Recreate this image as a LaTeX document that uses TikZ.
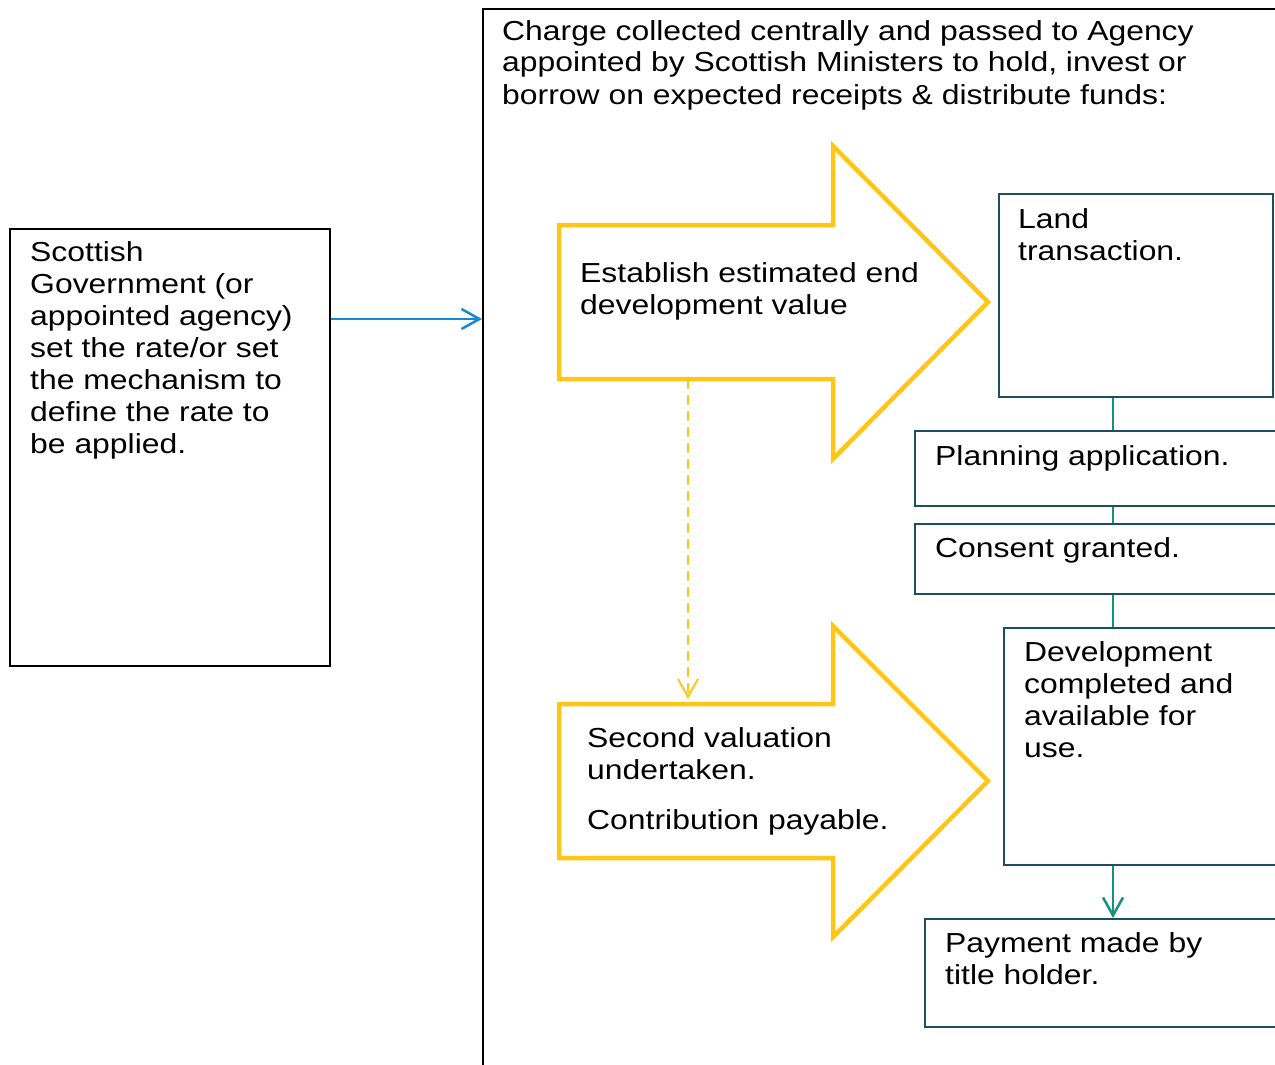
\documentclass[tikz,border=0pt]{standalone}
\usepackage{fontspec}
\setmainfont{Liberation Sans}[FakeStretch=1.16]
\usetikzlibrary{arrows.meta}
\definecolor{boxline}{HTML}{1F4E64}
\definecolor{flowteal}{HTML}{13937F}
\definecolor{linkblue}{HTML}{1689D6}
\definecolor{stageyellow}{HTML}{FFC619}

\begin{document}
\begin{tikzpicture}[
  x=1pt, y=-1pt,
  font=\fontsize{27.5}{32}\selectfont,
  plainbox/.style={draw=black, line width=1.6pt, inner sep=0pt, anchor=north west},
  stepbox/.style={draw=boxline, line width=2pt, inner sep=0pt, anchor=north west},
  txt/.style={inner sep=0pt, anchor=base west, align=left},
  stage/.style={draw=stageyellow, line width=4.5pt, line join=miter},
  arr/.style={-{Straight Barb[length=18pt, width=20pt]}, line width=2.5pt},
  link/.style={draw=flowteal, line width=2.5pt}
]
  \useasboundingbox (0,0) rectangle (1275,1065);
  \clip (0,0) rectangle (1275,1065);

  % Agency frame (runs off the page)
  \node[plainbox, minimum width=900pt, minimum height=1100pt] (agency) at (482,8) {};
  \node[txt] (agencytxt) at (502,104)
    {Charge collected centrally and passed to Agency\\
     appointed by Scottish Ministers to hold, invest or\\
     borrow on expected receipts \& distribute funds:};

  % Government box
  \node[plainbox, minimum width=320pt, minimum height=437pt] (govt) at (9,228) {};
  \node[txt] (govttxt) at (30,453)
    {Scottish\\Government (or\\appointed agency)\\set the rate/or set\\the mechanism to\\define the rate to\\be applied.};
  \draw[arr, linkblue] (govt.east |- 0,319) -- (agency.west |- 0,319);

  % Valuation stages
  \coordinate (est) at (559,225);
  \draw[stage] (est) -- ++(274,0) -- ++(0,-79) -- ++(155,156) -- ++(-155,157)
    -- ++(0,-80) -- ++(-274,0) -- cycle;
  \node[txt] (esttxt) at (580,314) {Establish estimated end\\development value};

  \coordinate (val) at (559,704);
  \draw[stage] (val) -- ++(274,0) -- ++(0,-78) -- ++(155,155) -- ++(-155,156)
    -- ++(0,-79) -- ++(-274,0) -- cycle;
  \node[txt] (valtxt) at (587,779) {Second valuation\\undertaken.};
  \node[txt] (paytxt) at (587,829) {Contribution payable.};

  \coordinate (estbase) at (688,379);
  \coordinate (valtop) at (688,699);
  \draw[arr, stageyellow, line width=2pt, dash pattern=on 10pt off 6pt] (estbase) -- (valtop);

  % Development steps
  \node[stepbox, minimum width=274pt, minimum height=203pt] (land) at (998,193) {};
  \node[txt] at (1018,260) {Land\\transaction.};
  \node[stepbox, minimum width=400pt, minimum height=75pt] (plan) at (914,430) {};
  \node[txt] at (935,465) {Planning application.};
  \node[stepbox, minimum width=400pt, minimum height=70pt] (cons) at (914,523) {};
  \node[txt] at (935,557) {Consent granted.};
  \node[stepbox, minimum width=400pt, minimum height=237pt] (dev) at (1003,627) {};
  \node[txt] at (1024,757) {Development\\completed and\\available for\\use.};
  \node[stepbox, minimum width=400pt, minimum height=108pt] (pay) at (924,918) {};
  \node[txt] at (945,984) {Payment made by\\title holder.};

  \coordinate (spine) at (1113,0);
  \draw[link] (spine |- land.south) -- (spine |- plan.north);
  \draw[link] (spine |- plan.south) -- (spine |- cons.north);
  \draw[link] (spine |- cons.south) -- (spine |- dev.north);
  \draw[link, arr] (spine |- dev.south) -- (spine |- pay.north);
\end{tikzpicture}
\end{document}
